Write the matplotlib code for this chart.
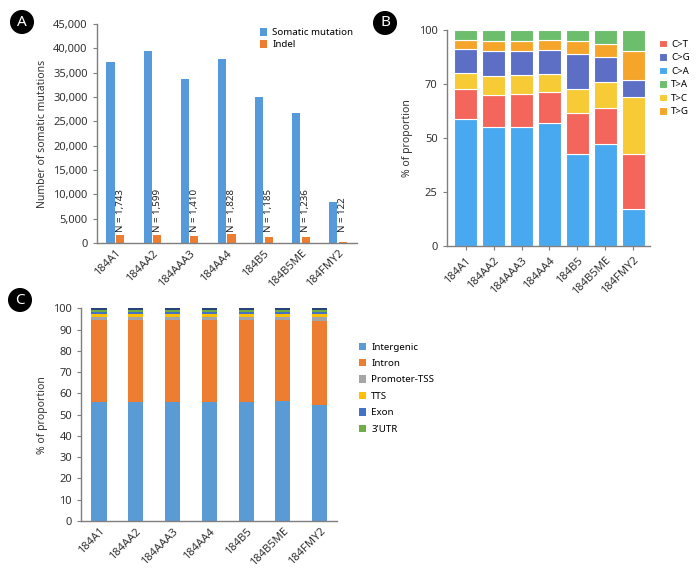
import numpy as np
import matplotlib
matplotlib.use("Agg")
import matplotlib.pyplot as plt
from matplotlib.ticker import FuncFormatter

plt.rcParams['font.family'] = ['Noto Sans', 'DejaVu Sans']

# Dados
amostras = ['184A1', '184AA2', '184AAA3', '184AA4', '184B5', '184B5ME', '184FMY2']

somatic = [37200, 39450, 33800, 37900, 29900, 26750, 8350]
indel = [1743, 1599, 1410, 1828, 1185, 1236, 122]

# Painel B: proporções (empilhadas de baixo para cima)
b_ca = [58.6, 54.9, 55.1, 56.8, 42.6, 47.2, 17.1]
b_ct = [13.9, 15.0, 15.4, 14.5, 19.0, 16.7, 25.5]
b_tc = [7.4, 8.6, 8.7, 8.3, 10.9, 12.2, 26.5]
b_cg = [11.1, 11.6, 11.2, 11.1, 16.5, 11.6, 7.8]
b_tg = [4.2, 4.7, 4.5, 4.5, 5.8, 6.0, 13.2]
b_ta = [4.8, 5.2, 5.1, 4.8, 5.2, 6.3, 9.9]
b_ticks = [0, 25, 50, 75, 100]
b_ticklabels = ['0', '25', '50', '70', '100']

# Painel C: regiões genômicas
c_intergenic = [56.0, 56.0, 55.8, 56.1, 55.9, 56.2, 54.4]
c_intron = [38.5, 38.6, 38.6, 38.6, 38.7, 38.5, 39.8]
c_promoter = [1.5, 1.4, 1.6, 1.4, 1.4, 1.4, 1.6]
c_tts = [1.2, 1.2, 1.1, 1.1, 1.2, 1.1, 1.4]
c_exon = [1.1, 1.1, 1.1, 1.1, 1.1, 1.1, 1.2]
c_utr3 = [0.9, 0.9, 0.9, 0.9, 0.9, 0.9, 0.8]
c_outros = [0.8, 0.8, 0.9, 0.8, 0.8, 0.8, 0.8]

cinza = '#7f7f7f'


def estilo_eixo(ax):
    for s in ['top', 'right']:
        ax.spines[s].set_visible(False)
    for s in ['left', 'bottom']:
        ax.spines[s].set_color(cinza)
        ax.spines[s].set_linewidth(1.0)
    ax.tick_params(axis='both', colors=cinza, labelcolor='#333333', labelsize=8, length=3)


def letra(fig, x, y, txt):
    fig.text(x / 698, 1 - y / 570, txt, ha='center', va='center', color='white',
             fontsize=11, fontweight='bold',
             bbox=dict(boxstyle='circle,pad=0.25', fc='black', ec='black'))


fig = plt.figure(figsize=(6.98, 5.7), dpi=100)
x = np.arange(len(amostras))

# ---- Painel A ----
axA = fig.add_axes([96.7 / 698, 1 - 243 / 570, 260 / 698, 219 / 570])
w = 0.22
axA.bar(x - 0.13, somatic, w, color='#559BDC', label='Somatic mutation')
axA.bar(x + 0.13, indel, w, color='#ED7D31', label='Indel')
for xi, n in zip(x, indel):
    axA.text(xi + 0.13, 2300, f'N = {n:,}', rotation=90, ha='center', va='bottom',
             fontsize=7, color='#222222')
axA.set_ylim(0, 45000)
axA.set_yticks(np.arange(0, 45001, 5000))
axA.yaxis.set_major_formatter(FuncFormatter(lambda v, p: f'{int(v):,}'))
axA.set_xlim(-0.5, 6.5)
axA.set_xticks(x)
axA.set_xticklabels(amostras, rotation=45, ha='right', rotation_mode='anchor')
axA.set_ylabel('Number of somatic mutations', fontsize=7.5, color='#333333')
estilo_eixo(axA)
axA.tick_params(axis='x', length=0)
axA.legend(loc='upper right', bbox_to_anchor=(1.02, 1.02), frameon=False, fontsize=7,
           handlelength=0.8, handleheight=0.8, handletextpad=0.5, labelspacing=0.3)

# ---- Painel B ----
axB = fig.add_axes([446.7 / 698, 1 - 246 / 570, 203.3 / 698, 216 / 570])
series_b = [('C>A', b_ca, '#48A9F0'), ('C>T', b_ct, '#F4655C'), ('T>C', b_tc, '#F7CB35'),
            ('C>G', b_cg, '#5C6FC4'), ('T>G', b_tg, '#F5A62A'), ('T>A', b_ta, '#6CBD6C')]
base = np.zeros(len(amostras))
handles = {}
for nome, vals, cor in series_b:
    h = axB.bar(x, vals, 0.82, bottom=base, color=cor, edgecolor='white', linewidth=0.8,
                label=nome)
    handles[nome] = h
    base += np.array(vals)
axB.set_ylim(0, 100)
axB.set_yticks(b_ticks)
axB.set_yticklabels(b_ticklabels)
axB.set_xlim(-0.68, 6.6)
axB.set_xticks(x)
axB.set_xticklabels(amostras, rotation=45, ha='right', rotation_mode='anchor')
axB.set_ylabel('% of proportion', fontsize=7.5, color='#333333')
estilo_eixo(axB)
ordem = ['C>T', 'C>G', 'C>A', 'T>A', 'T>C', 'T>G']
axB.legend([handles[k] for k in ordem], ordem, loc='upper left', bbox_to_anchor=(1.0, 0.995),
           frameon=False, fontsize=7, handlelength=0.8, handleheight=0.8,
           handletextpad=0.5, labelspacing=0.45)

# ---- Painel C ----
axC = fig.add_axes([81 / 698, 1 - 521 / 570, 256 / 698, 212.7 / 570])
series_c = [('Intergenic', c_intergenic, '#5B9BD5'), ('Intron', c_intron, '#ED7D31'),
            ('Promoter-TSS', c_promoter, '#A5A5A5'), ('TTS', c_tts, '#FFC000'),
            ('Exon', c_exon, '#4472C4'), ("3'UTR", c_utr3, '#70AD47'),
            ('_nolegend_', c_outros, '#264478')]
base = np.zeros(len(amostras))
for nome, vals, cor in series_c:
    axC.bar(x, vals, 0.41, bottom=base, color=cor, label=nome)
    base += np.array(vals)
axC.set_ylim(0, 100)
axC.set_yticks(np.arange(0, 101, 10))
axC.set_xlim(-0.49, 6.47)
axC.set_xticks(x)
axC.set_xticklabels(amostras, rotation=45, ha='right', rotation_mode='anchor')
axC.set_ylabel('% of proportion', fontsize=7.5, color='#333333')
estilo_eixo(axC)
axC.tick_params(axis='x', length=0)
axC.legend(loc='upper left', bbox_to_anchor=(1.05, 0.88), frameon=False, fontsize=7,
           handlelength=0.8, handleheight=0.8, handletextpad=0.5, labelspacing=0.75)

letra(fig, 22, 22, 'A')
letra(fig, 385, 23, 'B')
letra(fig, 20, 300, 'C')

fig.savefig('out.png', dpi=100)
